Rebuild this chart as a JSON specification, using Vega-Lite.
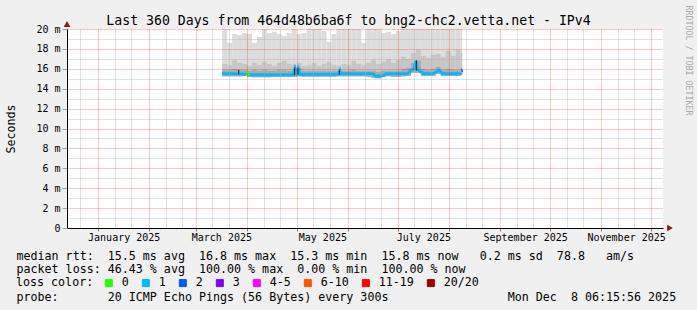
{
  "$schema": "https://vega.github.io/schema/vega-lite/v6.json",
  "width": 596,
  "height": 199,
  "autosize": {"type": "none"},
  "padding": {"left": 67, "top": 29, "right": 34, "bottom": 82},
  "background": "#f0f0f0",
  "config": {
    "view": {"fill": "#ffffff", "stroke": null},
    "font": "DejaVu Sans Mono",
    "axis": {
      "labelFont": "DejaVu Sans Mono",
      "labelFontSize": 10,
      "labelColor": "#000000",
      "titleFont": "DejaVu Sans Mono",
      "titleFontWeight": "normal",
      "titleColor": "#000000",
      "gridDash": [1, 1],
      "gridWidth": 1
    },
    "legend": {
      "labelFont": "DejaVu Sans Mono",
      "titleFont": "DejaVu Sans Mono"
    }
  },
  "datasets": {
    "smoke": [
      {"t": "2025-03-17", "t2": "2025-03-20", "lo": 15.25, "p1": 15.9, "p2": 16.5, "hi": 20.5},
      {"t": "2025-03-20", "t2": "2025-03-23", "lo": 15.25, "p1": 15.9, "p2": 16.4, "hi": 18.6},
      {"t": "2025-03-23", "t2": "2025-03-26", "lo": 15.25, "p1": 16.0, "p2": 16.9, "hi": 19.5},
      {"t": "2025-03-26", "t2": "2025-03-29", "lo": 15.25, "p1": 15.9, "p2": 16.6, "hi": 19.4},
      {"t": "2025-03-29", "t2": "2025-04-01", "lo": 15.3, "p1": 15.9, "p2": 16.5, "hi": 19.6},
      {"t": "2025-04-01", "t2": "2025-04-04", "lo": 15.2, "p1": 15.8, "p2": 16.3, "hi": 19.5},
      {"t": "2025-04-04", "t2": "2025-04-07", "lo": 15.15, "p1": 15.9, "p2": 16.6, "hi": 18.6},
      {"t": "2025-04-07", "t2": "2025-04-10", "lo": 15.15, "p1": 15.8, "p2": 16.4, "hi": 19.2},
      {"t": "2025-04-10", "t2": "2025-04-13", "lo": 15.15, "p1": 15.9, "p2": 16.7, "hi": 20.5},
      {"t": "2025-04-13", "t2": "2025-04-16", "lo": 15.15, "p1": 15.8, "p2": 16.5, "hi": 19.6},
      {"t": "2025-04-16", "t2": "2025-04-19", "lo": 15.2, "p1": 15.8, "p2": 16.3, "hi": 19.7},
      {"t": "2025-04-19", "t2": "2025-04-22", "lo": 15.2, "p1": 15.9, "p2": 16.6, "hi": 19.5},
      {"t": "2025-04-22", "t2": "2025-04-25", "lo": 15.2, "p1": 15.9, "p2": 16.8, "hi": 19.3},
      {"t": "2025-04-25", "t2": "2025-04-28", "lo": 15.2, "p1": 15.8, "p2": 16.5, "hi": 19.6},
      {"t": "2025-04-28", "t2": "2025-05-01", "lo": 15.2, "p1": 15.9, "p2": 16.4, "hi": 20.5},
      {"t": "2025-05-01", "t2": "2025-05-04", "lo": 15.25, "p1": 16.1, "p2": 16.6, "hi": 19.5},
      {"t": "2025-05-04", "t2": "2025-05-07", "lo": 15.2, "p1": 15.8, "p2": 16.3, "hi": 19.6},
      {"t": "2025-05-07", "t2": "2025-05-10", "lo": 15.2, "p1": 15.8, "p2": 16.4, "hi": 20.5},
      {"t": "2025-05-10", "t2": "2025-05-13", "lo": 15.2, "p1": 15.8, "p2": 16.6, "hi": 20.5},
      {"t": "2025-05-13", "t2": "2025-05-16", "lo": 15.2, "p1": 15.8, "p2": 16.3, "hi": 20.5},
      {"t": "2025-05-16", "t2": "2025-05-19", "lo": 15.2, "p1": 15.8, "p2": 16.5, "hi": 19.8},
      {"t": "2025-05-19", "t2": "2025-05-22", "lo": 15.2, "p1": 15.8, "p2": 16.7, "hi": 18.7},
      {"t": "2025-05-22", "t2": "2025-05-25", "lo": 15.2, "p1": 15.8, "p2": 16.4, "hi": 19.5},
      {"t": "2025-05-25", "t2": "2025-05-28", "lo": 15.25, "p1": 15.8, "p2": 16.3, "hi": 20.5},
      {"t": "2025-05-28", "t2": "2025-05-31", "lo": 15.25, "p1": 15.8, "p2": 16.5, "hi": 20.5},
      {"t": "2025-05-31", "t2": "2025-06-03", "lo": 15.25, "p1": 15.8, "p2": 16.4, "hi": 20.5},
      {"t": "2025-06-03", "t2": "2025-06-06", "lo": 15.25, "p1": 15.9, "p2": 16.8, "hi": 20.5},
      {"t": "2025-06-06", "t2": "2025-06-09", "lo": 15.25, "p1": 15.8, "p2": 16.5, "hi": 20.5},
      {"t": "2025-06-09", "t2": "2025-06-12", "lo": 15.25, "p1": 15.8, "p2": 16.4, "hi": 18.6},
      {"t": "2025-06-12", "t2": "2025-06-15", "lo": 15.2, "p1": 15.8, "p2": 16.6, "hi": 20.5},
      {"t": "2025-06-15", "t2": "2025-06-18", "lo": 15.1, "p1": 15.8, "p2": 16.9, "hi": 20.5},
      {"t": "2025-06-18", "t2": "2025-06-21", "lo": 15.05, "p1": 15.7, "p2": 16.5, "hi": 20.5},
      {"t": "2025-06-21", "t2": "2025-06-24", "lo": 15.2, "p1": 15.8, "p2": 16.7, "hi": 19.6},
      {"t": "2025-06-24", "t2": "2025-06-27", "lo": 15.25, "p1": 15.8, "p2": 17.0, "hi": 19.7},
      {"t": "2025-06-27", "t2": "2025-06-30", "lo": 15.2, "p1": 15.8, "p2": 16.6, "hi": 19.5},
      {"t": "2025-06-30", "t2": "2025-07-03", "lo": 15.2, "p1": 15.8, "p2": 16.9, "hi": 19.8},
      {"t": "2025-07-03", "t2": "2025-07-06", "lo": 15.25, "p1": 16.0, "p2": 17.2, "hi": 20.5},
      {"t": "2025-07-06", "t2": "2025-07-09", "lo": 15.3, "p1": 16.1, "p2": 17.0, "hi": 20.5},
      {"t": "2025-07-09", "t2": "2025-07-12", "lo": 15.6, "p1": 16.6, "p2": 17.6, "hi": 20.5},
      {"t": "2025-07-12", "t2": "2025-07-15", "lo": 15.6, "p1": 16.8, "p2": 17.9, "hi": 20.5},
      {"t": "2025-07-15", "t2": "2025-07-18", "lo": 15.3, "p1": 16.0, "p2": 17.3, "hi": 20.5},
      {"t": "2025-07-18", "t2": "2025-07-21", "lo": 15.3, "p1": 15.9, "p2": 17.1, "hi": 20.5},
      {"t": "2025-07-21", "t2": "2025-07-24", "lo": 15.3, "p1": 16.0, "p2": 17.4, "hi": 20.5},
      {"t": "2025-07-24", "t2": "2025-07-27", "lo": 15.5, "p1": 16.2, "p2": 17.5, "hi": 20.5},
      {"t": "2025-07-27", "t2": "2025-07-30", "lo": 15.3, "p1": 15.9, "p2": 17.2, "hi": 20.5},
      {"t": "2025-07-30", "t2": "2025-08-02", "lo": 15.3, "p1": 16.0, "p2": 17.8, "hi": 20.5},
      {"t": "2025-08-02", "t2": "2025-08-05", "lo": 15.3, "p1": 15.9, "p2": 17.3, "hi": 20.5},
      {"t": "2025-08-05", "t2": "2025-08-08", "lo": 15.3, "p1": 15.9, "p2": 17.9, "hi": 20.5},
      {"t": "2025-08-08", "t2": "2025-08-09", "lo": 15.4, "p1": 16.1, "p2": 17.6, "hi": 20.5}
    ],
    "median": [
      {"t": "2025-03-17T00:00:00Z", "v": 15.5, "loss": "1"},
      {"t": "2025-03-27T00:00:00Z", "v": 15.5, "loss": "1"},
      {"t": "2025-03-31T00:00:00Z", "v": 15.45, "loss": "1"},
      {"t": "2025-04-03T00:00:00Z", "v": 15.4, "loss": "1"},
      {"t": "2025-04-29T00:00:00Z", "v": 15.4, "loss": "1"},
      {"t": "2025-04-30T00:00:00Z", "v": 16.05, "loss": "1"},
      {"t": "2025-05-01T00:00:00Z", "v": 15.6, "loss": "1"},
      {"t": "2025-05-02T00:00:00Z", "v": 16.0, "loss": "1"},
      {"t": "2025-05-03T00:00:00Z", "v": 15.45, "loss": "1"},
      {"t": "2025-05-26T00:00:00Z", "v": 15.45, "loss": "1"},
      {"t": "2025-05-27T00:00:00Z", "v": 15.8, "loss": "1"},
      {"t": "2025-05-27T12:00:00Z", "v": 15.5, "loss": "1"},
      {"t": "2025-06-16T00:00:00Z", "v": 15.5, "loss": "1"},
      {"t": "2025-06-18T00:00:00Z", "v": 15.25, "loss": "1"},
      {"t": "2025-06-22T00:00:00Z", "v": 15.3, "loss": "1"},
      {"t": "2025-06-24T00:00:00Z", "v": 15.5, "loss": "1"},
      {"t": "2025-07-07T00:00:00Z", "v": 15.5, "loss": "1"},
      {"t": "2025-07-09T00:00:00Z", "v": 15.85, "loss": "1"},
      {"t": "2025-07-11T00:00:00Z", "v": 16.0, "loss": "1"},
      {"t": "2025-07-12T00:00:00Z", "v": 16.8, "loss": "1"},
      {"t": "2025-07-12T12:00:00Z", "v": 16.1, "loss": "1"},
      {"t": "2025-07-14T00:00:00Z", "v": 15.8, "loss": "1"},
      {"t": "2025-07-17T00:00:00Z", "v": 15.5, "loss": "1"},
      {"t": "2025-07-22T00:00:00Z", "v": 15.5, "loss": "1"},
      {"t": "2025-07-24T00:00:00Z", "v": 15.65, "loss": "1"},
      {"t": "2025-07-26T00:00:00Z", "v": 15.85, "loss": "1"},
      {"t": "2025-07-28T00:00:00Z", "v": 15.5, "loss": "1"},
      {"t": "2025-08-08T12:00:00Z", "v": 15.5, "loss": "1"}
    ],
    "segs": [
      {"t": "2025-03-31T06:00:00Z", "v": 15.45, "loss": "0", "seg": "a"},
      {"t": "2025-04-02T12:00:00Z", "v": 15.42, "loss": "0", "seg": "a"},
      {"t": "2025-08-08T12:00:00Z", "v": 15.8, "loss": "2", "seg": "b"},
      {"t": "2025-08-09T06:00:00Z", "v": 15.85, "loss": "2", "seg": "b"}
    ],
    "jumps": [
      {"t": "2025-03-27T00:00:00Z", "lo": 15.45, "hi": 15.9},
      {"t": "2025-04-29T18:00:00Z", "lo": 15.35, "hi": 16.1},
      {"t": "2025-05-01T18:00:00Z", "lo": 15.4, "hi": 16.05},
      {"t": "2025-05-26T18:00:00Z", "lo": 15.4, "hi": 15.85},
      {"t": "2025-07-12T06:00:00Z", "lo": 15.8, "hi": 16.85}
    ],
    "yarrow": [{"t": "2024-12-13T06:15:56Z", "v": 20}],
    "xarrow": [{"t": "2025-12-08T06:15:56Z", "v": 0}]
  },
  "layer": [
    {
      "data": {"name": "smoke"},
      "mark": {"type": "rect", "clip": true, "color": "#dcdcdc", "strokeWidth": 0},
      "encoding": {
        "x": {
          "field": "t", "type": "temporal",
          "scale": {"type": "utc", "domain": [
            {"year": 2024, "month": 12, "date": 13, "hours": 6, "minutes": 15, "seconds": 56, "utc": true},
            {"year": 2025, "month": 12, "date": 8, "hours": 6, "minutes": 15, "seconds": 56, "utc": true}
          ]},
          "axis": {
            "orient": "bottom",
            "values": [
              {"year": 2024, "month": 12, "date": 21, "utc": true},
              {"year": 2025, "month": 1, "date": 11, "utc": true},
              {"year": 2025, "month": 1, "date": 21, "utc": true},
              {"year": 2025, "month": 2, "date": 11, "utc": true},
              {"year": 2025, "month": 2, "date": 21, "utc": true},
              {"year": 2025, "month": 3, "date": 11, "utc": true},
              {"year": 2025, "month": 3, "date": 21, "utc": true},
              {"year": 2025, "month": 4, "date": 11, "utc": true},
              {"year": 2025, "month": 4, "date": 21, "utc": true},
              {"year": 2025, "month": 5, "date": 11, "utc": true},
              {"year": 2025, "month": 5, "date": 21, "utc": true},
              {"year": 2025, "month": 6, "date": 11, "utc": true},
              {"year": 2025, "month": 6, "date": 21, "utc": true},
              {"year": 2025, "month": 7, "date": 11, "utc": true},
              {"year": 2025, "month": 7, "date": 21, "utc": true},
              {"year": 2025, "month": 8, "date": 11, "utc": true},
              {"year": 2025, "month": 8, "date": 21, "utc": true},
              {"year": 2025, "month": 9, "date": 11, "utc": true},
              {"year": 2025, "month": 9, "date": 21, "utc": true},
              {"year": 2025, "month": 10, "date": 11, "utc": true},
              {"year": 2025, "month": 10, "date": 21, "utc": true},
              {"year": 2025, "month": 11, "date": 11, "utc": true},
              {"year": 2025, "month": 11, "date": 21, "utc": true}
            ],
            "grid": true, "gridColor": "#a8a8a8", "gridOpacity": 0.7,
            "labels": false, "ticks": false, "domain": false, "zindex": 1,
            "title": "Last 360 Days from 464d48b6ba6f to bng2-chc2.vetta.net - IPv4",
            "titleX": 281, "titleY": -204, "titleAlign": "center", "titleAnchor": null,
            "titleBaseline": "alphabetic", "titleFontSize": 13.2
          }
        },
        "x2": {"field": "t2"},
        "y": {
          "field": "lo", "type": "quantitative",
          "scale": {"domain": [0, 20], "nice": false, "zero": true},
          "axis": {
            "orient": "left",
            "values": [1, 3, 5, 7, 9, 11, 13, 15, 17, 19],
            "grid": true, "gridColor": "#a8a8a8", "gridOpacity": 0.7,
            "labels": false, "ticks": false, "domain": false, "title": null, "zindex": 1
          }
        },
        "y2": {"field": "hi"}
      }
    },
    {
      "data": {"name": "smoke"},
      "mark": {"type": "rect", "clip": true, "color": "#c6c6c6", "strokeWidth": 0},
      "encoding": {
        "x": {"field": "t", "type": "temporal", "axis": null},
        "x2": {"field": "t2"},
        "y": {"field": "lo", "type": "quantitative", "axis": null},
        "y2": {"field": "p2"}
      }
    },
    {
      "data": {"name": "smoke"},
      "mark": {"type": "rect", "clip": true, "color": "#aaaaaa", "strokeWidth": 0},
      "encoding": {
        "x": {"field": "t", "type": "temporal", "axis": null},
        "x2": {"field": "t2"},
        "y": {"field": "lo", "type": "quantitative", "axis": null},
        "y2": {"field": "p1"}
      }
    },
    {
      "data": {"name": "median"},
      "mark": {"type": "line", "strokeWidth": 3, "strokeCap": "butt", "clip": true},
      "encoding": {
        "x": {
          "field": "t", "type": "temporal",
          "axis": {
            "orient": "bottom",
            "values": [
              {"year": 2025, "month": 1, "date": 1, "utc": true},
              {"year": 2025, "month": 2, "date": 1, "utc": true},
              {"year": 2025, "month": 3, "date": 1, "utc": true},
              {"year": 2025, "month": 4, "date": 1, "utc": true},
              {"year": 2025, "month": 5, "date": 1, "utc": true},
              {"year": 2025, "month": 6, "date": 1, "utc": true},
              {"year": 2025, "month": 7, "date": 1, "utc": true},
              {"year": 2025, "month": 8, "date": 1, "utc": true},
              {"year": 2025, "month": 9, "date": 1, "utc": true},
              {"year": 2025, "month": 10, "date": 1, "utc": true},
              {"year": 2025, "month": 11, "date": 1, "utc": true},
              {"year": 2025, "month": 12, "date": 1, "utc": true}
            ],
            "grid": true, "gridColor": "#ff0000", "gridOpacity": 0.45,
            "labels": false, "ticks": true, "tickSize": 3, "tickColor": "#808080",
            "domain": true, "domainColor": "#000000", "domainWidth": 1, "zindex": 1,
            "title": [
              "median\u00a0rtt:\u00a0\u00a015.5\u00a0ms\u00a0avg\u00a0\u00a016.8\u00a0ms\u00a0max\u00a0\u00a015.3\u00a0ms\u00a0min\u00a0\u00a015.8\u00a0ms\u00a0now\u00a0\u00a0\u00a00.2\u00a0ms\u00a0sd\u00a0\u00a078.8\u00a0\u00a0\u00a0am/s",
              "packet\u00a0loss:\u00a046.43\u00a0%\u00a0avg\u00a0\u00a0100.00\u00a0%\u00a0max\u00a0\u00a00.00\u00a0%\u00a0min\u00a0\u00a0100.00\u00a0%\u00a0now"
            ],
            "titleX": -51, "titleY": 31, "titleAlign": "left", "titleAnchor": null,
            "titleBaseline": "alphabetic", "titleFontSize": 11.66, "titleLineHeight": 13.8
          }
        },
        "y": {
          "field": "v", "type": "quantitative",
          "axis": {
            "orient": "left",
            "values": [0, 2, 4, 6, 8, 10, 12, 14, 16, 18, 20],
            "grid": true,
            "gridColor": {"condition": {"test": "datum.value === 0", "value": "transparent"}, "value": "#ff0000"},
            "gridOpacity": 0.45,
            "labelExpr": "datum.value === 0 ? '0' : datum.value + ' m'",
            "labelPadding": 2, "tickSize": 5, "tickColor": "#a0a0a0",
            "domain": true, "domainColor": "#000000", "zindex": 1,
            "title": "Seconds", "titleX": -56, "titleY": 99.5, "titleAngle": -90,
            "titleAlign": "center", "titleBaseline": "middle", "titleFontSize": 11.66
          }
        },
        "color": {
          "field": "loss", "type": "nominal",
          "scale": {
            "domain": ["0", "1", "2", "3", "4-5", "6-10", "11-19", "20/20"],
            "range": ["#26ff00", "#00b8ff", "#0059ff", "#7e00ff", "#ff00ff", "#ff5500", "#ff0000", "#a00000"]
          },
          "legend": {
            "orient": "none", "legendX": -51, "legendY": 248,
            "direction": "horizontal",
            "title": "loss color:", "titleOrient": "left", "titleFontSize": 11.66,
            "titleFontWeight": "normal", "titleColor": "#000000", "titlePadding": 9,
            "titleBaseline": "middle",
            "labelFontSize": 11.66, "labelColor": "#000000", "labelOffset": 7,
            "columnPadding": 11,
            "symbolType": "square", "symbolSize": 49, "symbolStrokeWidth": 1,
            "symbolStrokeColor": "#000000",
            "encode": {
              "symbols": {
                "update": {
                  "fill": {"scale": "color", "field": "value"},
                  "fillOpacity": {"value": 1},
                  "stroke": {"value": "#000000"},
                  "strokeWidth": {"value": 1}
                }
              }
            }
          }
        }
      }
    },
    {
      "data": {"name": "segs"},
      "mark": {"type": "line", "strokeWidth": 3, "strokeCap": "butt"},
      "encoding": {
        "x": {"field": "t", "type": "temporal", "axis": null},
        "y": {"field": "v", "type": "quantitative", "axis": null},
        "color": {"field": "loss", "type": "nominal"},
        "detail": {"field": "seg"}
      }
    },
    {
      "data": {"name": "jumps"},
      "mark": {"type": "rule", "color": "#1a1a1a", "strokeWidth": 1},
      "encoding": {
        "x": {"field": "t", "type": "temporal", "axis": null},
        "y": {"field": "lo", "type": "quantitative", "axis": null},
        "y2": {"field": "hi"}
      }
    },
    {
      "data": {"name": "yarrow"},
      "mark": {"type": "point", "shape": "triangle-up", "filled": true, "size": 45, "color": "#8b1a1a", "opacity": 1, "yOffset": -5},
      "encoding": {
        "x": {
          "field": "t", "type": "temporal",
          "axis": {
            "orient": "bottom",
            "values": [
              {"year": 2025, "month": 1, "date": 16, "hours": 12, "utc": true},
              {"year": 2025, "month": 3, "date": 16, "hours": 12, "utc": true},
              {"year": 2025, "month": 5, "date": 16, "hours": 12, "utc": true},
              {"year": 2025, "month": 7, "date": 16, "hours": 12, "utc": true},
              {"year": 2025, "month": 9, "date": 16, "hours": 0, "utc": true},
              {"year": 2025, "month": 11, "date": 16, "hours": 0, "utc": true}
            ],
            "labelExpr": "utcFormat(datum.value, '%B %Y')",
            "grid": false, "ticks": false, "domain": false,
            "labelPadding": 4, "labelOverlap": false, "labelFlush": false,
            "title": null
          }
        },
        "y": {
          "field": "v", "type": "quantitative",
          "axis": {
            "orient": "right", "labels": false, "ticks": false, "domain": false, "grid": false,
            "title": "RRDTOOL / TOBI OETIKER",
            "titleX": 24, "titleY": 31, "titleAngle": 90,
            "titleAlign": "center", "titleBaseline": "middle",
            "titleFontSize": 8.3, "titleColor": "#a8a8a8"
          }
        }
      }
    },
    {
      "data": {"name": "xarrow"},
      "mark": {"type": "point", "shape": "triangle-right", "filled": true, "size": 45, "color": "#8b1a1a", "opacity": 1, "xOffset": 7},
      "encoding": {
        "x": {
          "field": "t", "type": "temporal",
          "axis": {
            "orient": "bottom", "labels": false, "ticks": false, "domain": false, "grid": false,
            "title": "probe:\u00a0\u00a0\u00a0\u00a0\u00a0\u00a0\u00a020\u00a0ICMP\u00a0Echo\u00a0Pings\u00a0(56\u00a0Bytes)\u00a0every\u00a0300s\u00a0\u00a0\u00a0\u00a0\u00a0\u00a0\u00a0\u00a0\u00a0\u00a0\u00a0\u00a0\u00a0\u00a0\u00a0\u00a0\u00a0Mon\u00a0Dec\u00a0\u00a08\u00a006:15:56\u00a02025",
            "titleX": -51, "titleY": 72.4, "titleAlign": "left", "titleAnchor": null,
            "titleBaseline": "alphabetic", "titleFontSize": 11.66
          }
        },
        "y": {"field": "v", "type": "quantitative", "axis": null}
      }
    }
  ],
  "resolve": {
    "scale": {"x": "shared", "y": "shared", "color": "shared"},
    "axis": {"x": "independent", "y": "independent"}
  }
}
